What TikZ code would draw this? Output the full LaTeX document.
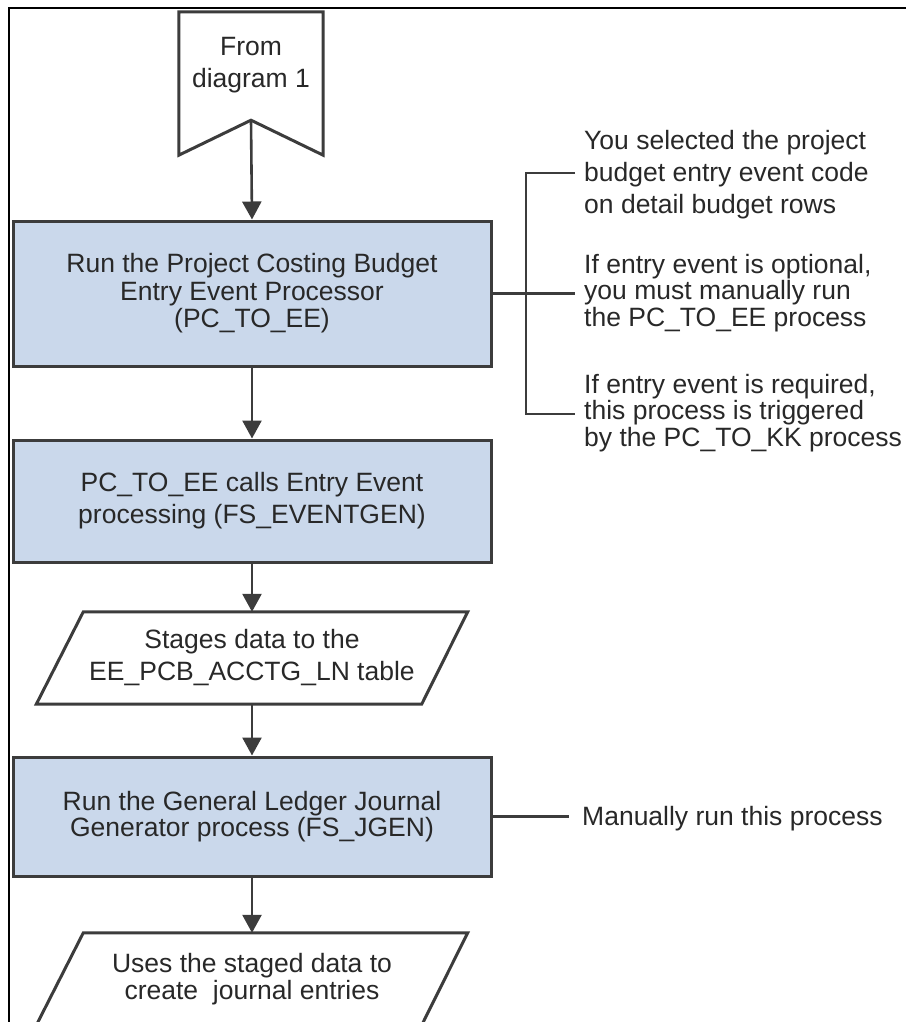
\documentclass[tikz,border=0pt]{standalone}
\usepackage{fontspec}
\setmainfont{Liberation Sans}
\usetikzlibrary{arrows.meta,calc}
\definecolor{boxfill}{RGB}{202,216,235}
\definecolor{linec}{RGB}{60,60,60}
\definecolor{txtc}{RGB}{40,40,40}
\begin{document}
\begin{tikzpicture}[x=1pt,y=-1pt,
  procbox/.style={draw=linec, line width=3pt, fill=boxfill, minimum width=478pt, inner sep=0pt, align=center, text=txtc},
  iobox/.style={minimum width=431pt, minimum height=92pt, inner sep=0pt, align=center, text=txtc},
  conn/.style={draw=linec, line width=2.6pt, -{Triangle[length=18pt,width=19pt]}},
  tick/.style={draw=linec, line width=2.6pt},
  note/.style={anchor=west, align=left, text=txtc, inner ysep=0pt},
  shapeline/.style={draw=linec, line width=3pt, line join=miter},
]
\useasboundingbox (0,0) rectangle (906,1022);
\clip (0,0) rectangle (906,1022);
\draw[black, line width=1.5pt] (9,1022) -- (9,8) -- (906,8);

% off-page connector
\node[minimum width=144pt, minimum height=143pt, inner sep=0pt] (from) at (251,83.5) {};
\draw[shapeline, fill=white] (from.north west) -- (from.north east) -- (from.south east)
  -- ($(from.south)+(0,-35)$) coordinate (notch) -- (from.south west) -- cycle;
\node[text=txtc, align=center, font=\fontsize{26.5pt}{32pt}\selectfont] (fromtext) at (251,65) {From\\diagram 1};

% process boxes
\node[procbox, minimum height=145pt, font=\fontsize{26.5pt}{27.5pt}\selectfont] (b1) at (252,293.5)
  {Run the Project Costing Budget\\Entry Event Processor\\(PC\_TO\_EE)};
\node[procbox, minimum height=122pt, font=\fontsize{26.5pt}{32pt}\selectfont] (b2) at (252,501)
  {PC\_TO\_EE calls Entry Event\\processing (FS\_EVENTGEN)};
\node[iobox, font=\fontsize{26.5pt}{32pt}\selectfont] (p1) at (252,658)
  {Stages data to the\\EE\_PCB\_ACCTG\_LN table};
\draw[shapeline] ($(p1.north west)+(47,0)$) -- (p1.north east) -- ($(p1.south east)+(-46,0)$) -- (p1.south west) -- cycle;
\node[procbox, minimum height=119pt, font=\fontsize{26.5pt}{26pt}\selectfont] (b3) at (252,816.5)
  {Run the General Ledger Journal\\Generator process (FS\_JGEN)};
\node[iobox, font=\fontsize{26.5pt}{27pt}\selectfont] (p2) at (252,979)
  {Uses the staged data to\\create\ \ journal entries};
\draw[shapeline] ($(p2.north west)+(47,0)$) -- (p2.north east) -- ($(p2.south east)+(-46,0)$) -- (p2.south west) -- cycle;

% flow connectors
\draw[conn] (notch) -- (b1.north);
\draw[conn] (b1.south) -- (b2.north);
\draw[conn] (b2.south) -- (p1.north);
\draw[conn] (p1.south) -- (b3.north);
\draw[conn] (b3.south) -- (p2.north);

% notes
\node[note, inner xsep=9pt, font=\fontsize{26.5pt}{32pt}\selectfont] (n1) at (575,175)
  {You selected the project\\budget entry event code\\on detail budget rows};
\node[note, inner xsep=9pt, font=\fontsize{26.5pt}{26.5pt}\selectfont] (n2) at (575,293)
  {If entry event is optional,\\you must manually run\\the PC\_TO\_EE process};
\node[note, inner xsep=9pt, font=\fontsize{26.5pt}{26.5pt}\selectfont] (n3) at (575,413)
  {If entry event is required,\\this process is triggered\\by the PC\_TO\_KK process};
\node[note, inner xsep=13pt, font=\fontsize{26.5pt}{30pt}\selectfont] (n4) at (569,819)
  {Manually run this process};

\draw[tick] (b1.east) -- (b1.east -| n2.west);
\draw[tick] (n1.west) ++(0,-2) -- ++(-49,0) |- ($(n3.west)+(0,1)$);
\draw[tick] (b3.east) -- (b3.east -| n4.west);
\end{tikzpicture}
\end{document}
